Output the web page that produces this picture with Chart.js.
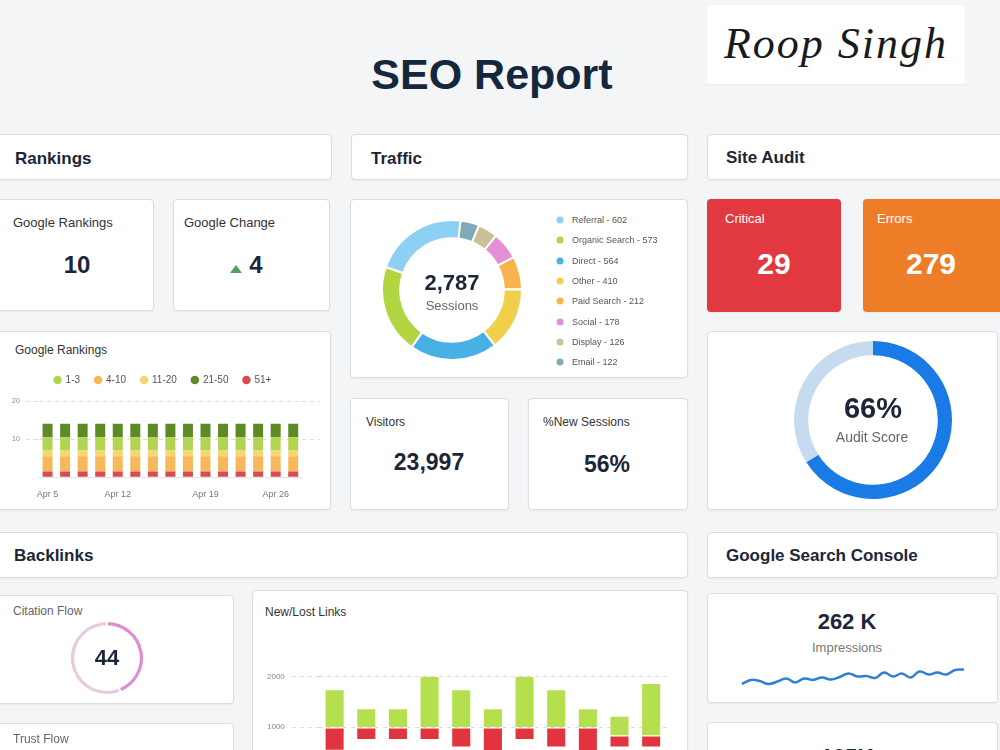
<!DOCTYPE html>
<html>
<head>
<meta charset="utf-8">
<title>SEO Report</title>
<script src="https://cdn.jsdelivr.net/npm/chart.js@4.4.1/dist/chart.umd.min.js"></script>
<style>
html, body { margin:0; padding:0; width:1000px; height:750px; overflow:hidden; background:#f3f5f7; font-family:"Liberation Sans", Arial, sans-serif; }
.card { position:absolute; background:#fff; border:1px solid #d9dee3; border-radius:4px; box-sizing:border-box; box-shadow:0 1px 2px rgba(0,0,0,0.05); }
.txt { position:absolute; white-space:nowrap; line-height:1; transform:translateY(-50%); }
.mid { transform:translate(-50%,-50%); }
.dot { position:absolute; width:7px; height:7px; border-radius:50%; transform:translate(-50%,-50%); }
.up { position:absolute; left:230px; top:265px; width:0; height:0; border-left:6px solid transparent; border-right:6px solid transparent; border-bottom:8px solid #5a9e5e; }
canvas { position:absolute; }
</style>
</head>
<body>
<div class="up"></div>
<script>
// ---- data ----
const rankDates = ['Apr 5','Apr 7','Apr 8','Apr 10','Apr 12','Apr 13','Apr 15','Apr 16','Apr 18','Apr 19','Apr 21','Apr 22','Apr 24','Apr 26','Apr 27'];
const rankTicks = ['Apr 5','Apr 12','Apr 19','Apr 26'];
const rankGroups = ['1-3','4-10','11-20','21-50','51+'];
const rank1to3   = [3.5,3.5,3.5,3.5,3.5,3.5,3.5,3.5,3.5,3.5,3.5,3.5,3.5,3.5,3.5];
const rank4to10  = [4,4,4,4,4,4,4,4,4,4,4,4,4,4,4];
const rank11to20 = [1.5,1.5,1.5,1.5,1.5,1.5,1.5,1.5,1.5,1.5,1.5,1.5,1.5,1.5,1.5];
const rank21to50 = [3.5,3.5,3.5,3.5,3.5,3.5,3.5,3.5,3.5,3.5,3.5,3.5,3.5,3.5,3.5];
const rank51plus = [1.5,1.5,1.5,1.5,1.5,1.5,1.5,1.5,1.5,1.5,1.5,1.5,1.5,1.5,1.5];

const trafficSources = ['Referral','Organic Search','Direct','Other','Paid Search','Social','Display','Email'];
const trafficSessions = [602,573,564,410,212,178,126,122];

const auditScore = [66,34];
const citationFlow = [44,56];

const linkWeeks = ['Wk 1','Wk 2','Wk 3','Wk 4','Wk 5','Wk 6','Wk 7','Wk 8','Wk 9','Wk 10','Wk 11'];
const newLinks  = [[1000,1730],[1000,1355],[1000,1355],[1000,2000],[1000,1730],[1000,1355],[1000,2000],[1000,1730],[1000,1355],[835,1205],[835,1855]];
const lostLinks = [[545,968],[760,968],[760,968],[760,968],[610,968],[420,968],[760,968],[610,968],[420,968],[610,810],[610,810]];

const impressionDays = ['1','2','3','4','5','6','7','8','9','10','11','12','13','14','15','16','17','18','19','20','21','22','23','24','25','26'];
const impressions = [16,20,19,16,18.5,21.5,17.5,21.5,20,22.5,20.5,23,26.5,23.5,24,22,27.5,23.5,26.5,22.5,28.5,25.5,27.5,25.5,30,30.5];

// ---- colours ----
const rankColors = {'1-3':'#b1d452','4-10':'#f6b85a','11-20':'#f4d672','21-50':'#5e8a25','51+':'#d84b50'};
const trafficColors = ['#8dd0f4','#b2d642','#47b1e6','#f2cf4a','#f8b44c','#e48fd7','#c9c196','#7eaab9'];

Chart.defaults.font.family = '"Liberation Sans", Arial, sans-serif';

function card(x, y, w, h, bg){
    const d = document.createElement('div');
    d.className = 'card';
    d.style.left = x + 'px'; d.style.top = y + 'px';
    d.style.width = w + 'px'; d.style.height = h + 'px';
    if(bg){ d.style.background = bg; d.style.border = 'none'; }
    document.body.insertBefore(d, document.body.firstChild);
    return d;
}

function txt(s, x, y, size, opt){
    opt = opt || {};
    const d = document.createElement('div');
    d.className = 'txt' + (opt.center ? ' mid' : '');
    d.textContent = s;
    d.style.left = x + 'px'; d.style.top = y + 'px';
    d.style.fontSize = size + 'px';
    d.style.color = opt.color || '#1c2638';
    if(opt.bold) d.style.fontWeight = 'bold';
    if(opt.font) d.style.fontFamily = opt.font;
    if(opt.italic) d.style.fontStyle = 'italic';
    document.body.appendChild(d);
    return d;
}

function canvas(x, y, w, h){
    const c = document.createElement('canvas');
    c.width = w; c.height = h;
    c.style.left = x + 'px'; c.style.top = y + 'px';
    c.style.width = w + 'px'; c.style.height = h + 'px';
    document.body.appendChild(c);
    return c;
}

// a bit of room between legend and plot
const legendGap = {
    id: 'legendGap',
    beforeInit(chart){
        const fit = chart.legend.fit;
        chart.legend.fit = function(){ fit.bind(chart.legend)(); this.height += 6; };
    }
};

// ---- header + signature ----
txt('SEO Report', 492, 74, 43, {center:true, bold:true, color:'#15273c'});
card(707, 5, 258, 79, '#fff');
const sig = txt('Roop Singh', 836, 44, 44, {center:true, italic:true, font:'"Liberation Serif", serif', color:'#1a1a1a'});
sig.style.letterSpacing = '2px';

// ---- section headers ----
card(-10, 134, 342, 46); txt('Rankings', 15, 158, 17, {bold:true});
card(351, 134, 337, 46); txt('Traffic', 371, 158, 17, {bold:true});
card(707, 134, 300, 46); txt('Site Audit', 726, 157, 17, {bold:true});
card(-10, 532, 698, 46); txt('Backlinks', 14, 555, 17, {bold:true});
card(707, 532, 291, 46); txt('Google Search Console', 726, 555, 17, {bold:true});

// ---- small stat cards ----
card(-10, 199, 164, 112);
txt('Google Rankings', 13, 222, 13, {color:'#333'});
txt('10', 77, 265, 24, {center:true, bold:true});
card(173, 199, 157, 112);
txt('Google Change', 184, 222, 13, {color:'#333'});
txt('4', 256, 265, 24, {center:true, bold:true});

card(707, 199, 134, 113, '#e2383f');
txt('Critical', 725, 218, 13, {color:'#fff'});
txt('29', 774, 264, 30, {center:true, bold:true, color:'#fff'});
card(863, 199, 140, 113, '#ee7d27');
txt('Errors', 877, 218, 13, {color:'#fff'});
txt('279', 931, 264, 30, {center:true, bold:true, color:'#fff'});

card(350, 398, 159, 112);
txt('Visitors', 366, 422, 12, {color:'#333'});
txt('23,997', 429, 462, 23, {center:true, bold:true});
card(528, 398, 160, 112);
txt('%New Sessions', 543, 422, 12, {color:'#333'});
txt('56%', 607, 464, 23, {center:true, bold:true});

// ---- google rankings stacked bars ----
card(-10, 331, 341, 179);
txt('Google Rankings', 15, 350, 12, {color:'#333'});
const dashGrid = ctx => ctx.tick && ctx.tick.value === 0 ? 'rgba(0,0,0,0)' : '#dcdcdc';
new Chart(canvas(0, 360, 330, 152), {
    type: 'bar',
    data: {
        labels: rankDates,
        datasets: [
            {label:'51+',   data:rank51plus, backgroundColor:rankColors['51+']},
            {label:'4-10',  data:rank4to10,  backgroundColor:rankColors['4-10']},
            {label:'11-20', data:rank11to20, backgroundColor:rankColors['11-20']},
            {label:'1-3',   data:rank1to3,   backgroundColor:rankColors['1-3']},
            {label:'21-50', data:rank21to50, backgroundColor:rankColors['21-50']}
        ]
    },
    options: {
        responsive:false, animation:false,
        barPercentage:0.57, categoryPercentage:1,
        layout:{padding:{left:6, right:10}},
        plugins:{
            tooltip:{enabled:false},
            legend:{labels:{usePointStyle:true, pointStyle:'circle', boxWidth:6, boxHeight:6, padding:15,
                color:'#555', font:{size:10},
                sort:(a, b) => rankGroups.indexOf(a.text) - rankGroups.indexOf(b.text)}}
        },
        scales:{
            x:{stacked:true, grid:{display:false, drawTicks:false}, border:{color:'#e4e4e4'},
               ticks:{autoSkip:false, maxRotation:0, padding:12, color:'#777', font:{size:9},
                      callback:(v, i) => rankTicks.includes(rankDates[i]) ? rankDates[i] : ''}},
            y:{stacked:true, min:0, max:20,
               ticks:{stepSize:10, padding:6, color:'#888', font:{size:7}, callback:v => v === 0 ? '' : v},
               grid:{color:dashGrid, tickColor:dashGrid, tickLength:13, tickBorderDash:[4,4]},
               border:{display:false, dash:[4,4]}},
            y2:{position:'right', min:0, max:20, ticks:{stepSize:10, display:false},
                grid:{drawOnChartArea:false, tickColor:dashGrid, tickLength:18, tickBorderDash:[4,4]},
                border:{display:false}}
        }
    },
    plugins:[legendGap]
});

// ---- traffic doughnut ----
card(350, 199, 338, 179);
const donutOrder = trafficSources.map((s, i) => i).reverse();
new Chart(canvas(381, 219, 142, 142), {
    type: 'doughnut',
    data: {
        labels: donutOrder.map(i => trafficSources[i]),
        datasets: [{
            data: donutOrder.map(i => trafficSessions[i]),
            backgroundColor: donutOrder.map(i => trafficColors[i]),
            borderColor:'#fff', borderWidth:2
        }]
    },
    options: {responsive:false, animation:false, cutout:'74%', rotation:7,
              plugins:{legend:{display:false}, tooltip:{enabled:false}}}
});
txt('2,787', 452, 283, 22, {center:true, bold:true});
txt('Sessions', 452, 305, 13, {center:true, color:'#666'});
trafficSources.forEach((s, i) => {
    const y = 220 + i * 20.3;
    const d = document.createElement('div');
    d.className = 'dot';
    d.style.left = '560px'; d.style.top = y + 'px';
    d.style.background = trafficColors[i];
    document.body.appendChild(d);
    txt(s + ' - ' + trafficSessions[i], 572, y, 9, {color:'#555'});
});

// ---- audit score ring ----
card(707, 331, 291, 179);
new Chart(canvas(794, 341, 158, 158), {
    type: 'doughnut',
    data: {labels:['Score','Rest'], datasets:[{data:auditScore, backgroundColor:['#1a7be6','#c6dbef'], borderWidth:0}]},
    options: {responsive:false, animation:false, cutout:'82%', plugins:{legend:{display:false}, tooltip:{enabled:false}}}
});
txt('66%', 873, 408, 29, {center:true, bold:true});
txt('Audit Score', 872, 437, 14, {center:true, color:'#666'});

// ---- citation flow ----
card(-10, 595, 244, 109);
txt('Citation Flow', 13, 611, 12, {color:'#666'});
new Chart(canvas(69, 620, 76, 76), {
    type: 'doughnut',
    data: {labels:['Flow','Rest'], datasets:[{data:citationFlow, backgroundColor:['#dd8fcd','#e9c9e0'], borderColor:'#fff', borderWidth:2}]},
    options: {responsive:false, animation:false, cutout:'86%', plugins:{legend:{display:false}, tooltip:{enabled:false}}}
});
txt('44', 107, 658, 22, {center:true, bold:true});
card(-10, 723, 244, 60);
txt('Trust Flow', 13, 739, 12, {color:'#666'});

// ---- new / lost links ----
card(252, 590, 436, 200);
txt('New/Lost Links', 265, 612, 12, {color:'#333'});
new Chart(canvas(260, 665, 420, 124), {
    type: 'bar',
    data: {
        labels: linkWeeks,
        datasets: [
            {label:'Lost', data:lostLinks, backgroundColor:'#e2343f'},
            {label:'New',  data:newLinks,  backgroundColor:'#b4df4e'}
        ]
    },
    options: {
        responsive:false, animation:false, grouped:false,
        barPercentage:0.57, categoryPercentage:1,
        layout:{padding:{left:0, right:13, top:5, bottom:5}},
        plugins:{legend:{display:false}, tooltip:{enabled:false}},
        scales:{
            x:{display:false},
            y:{min:0, max:2000,
               ticks:{stepSize:1000, padding:7, color:'#888', font:{size:8}, callback:v => v === 0 ? '' : v},
               grid:{color:dashGrid, tickColor:dashGrid, tickLength:27, tickBorderDash:[4,4]},
               border:{display:false, dash:[4,4]}}
        }
    }
});

// ---- impressions sparkline ----
card(707, 593, 291, 110);
txt('262 K', 847, 622, 22, {center:true, bold:true});
txt('Impressions', 847, 647, 13, {center:true, color:'#777'});
new Chart(canvas(740, 660, 226, 34), {
    type: 'line',
    data: {labels:impressionDays, datasets:[{data:impressions, borderColor:'#2f80d2', borderWidth:2.5,
           pointRadius:0, tension:0.45, fill:false, clip:false}]},
    options: {
        responsive:false, animation:false,
        layout:{padding:2},
        plugins:{legend:{display:false}, tooltip:{enabled:false}},
        scales:{x:{display:false}, y:{display:false, min:8, max:38}}
    }
});

card(707, 722, 291, 60);
txt('105K', 847, 757, 22, {center:true, bold:true});
</script>
</body>
</html>
